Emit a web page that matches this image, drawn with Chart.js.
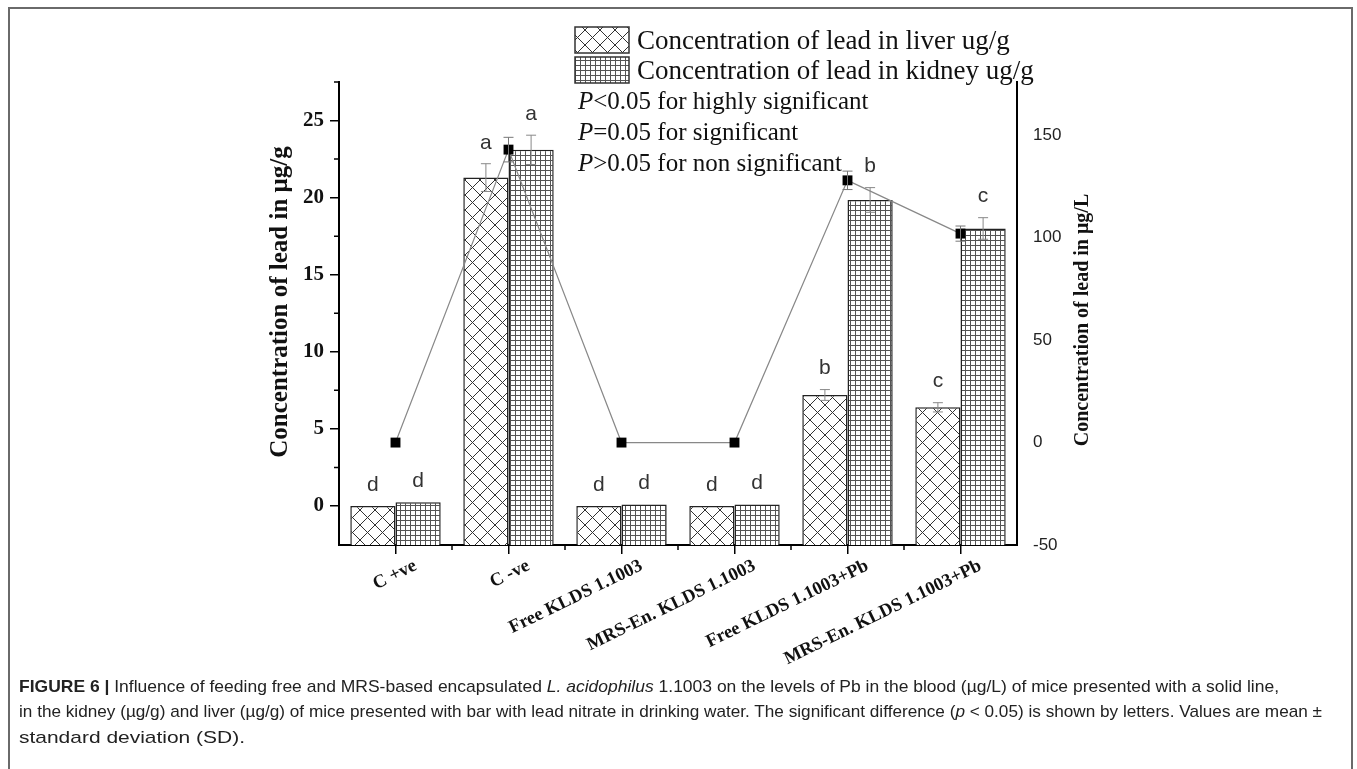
<!DOCTYPE html>
<html>
<head>
<meta charset="utf-8">
<script src="https://cdn.jsdelivr.net/npm/chart.js@4.4.0/dist/chart.umd.min.js"></script>
<style>
    html, body { margin: 0; padding: 0; background: #fff; overflow: hidden; }
    #wrap { position: relative; width: 1357px; height: 769px; }
    #frame { position: absolute; left: 8px; top: 7px; width: 1345px; height: 800px; border: 2px solid #6a6a6a; box-sizing: border-box; }
    #chartBox { position: absolute; left: 0; top: 0; width: 1357px; height: 769px; }
    .cap { position: absolute; left: 19px; white-space: nowrap; font-family: 'Liberation Sans', Arial, sans-serif; font-size: 17px; color: #222; transform-origin: 0 50%; }
    .cap b { font-weight: bold; }
</style>
</head>
<body>
<div id="wrap">
    <div id="frame"></div>
    <div id="chartBox"><canvas id="leadChart" width="1357" height="769"></canvas></div>
    <div class="cap" id="cap1" style="top:677px"><b>FIGURE 6 |</b> Influence of feeding free and MRS-based encapsulated <i>L. acidophilus</i> 1.1003 on the levels of Pb in the blood (µg/L) of mice presented with a solid line,</div>
    <div class="cap" id="cap2" style="top:702px">in the kidney (µg/g) and liver (µg/g) of mice presented with bar with lead nitrate in drinking water. The significant difference (<i>p</i> &lt; 0.05) is shown by letters. Values are mean ±</div>
    <div class="cap" id="cap3" style="top:728px">standard deviation (SD).</div>
</div>
<script>
// groups on the x axis
const categories = ['C +ve', 'C -ve', 'Free KLDS 1.1003', 'MRS-En. KLDS 1.1003', 'Free KLDS 1.1003+Pb', 'MRS-En. KLDS 1.1003+Pb'];

// liver (ug/g), left axis
const liverValues = [0, 21.3, 0, 0, 7.2, 6.4];
const liverErrors = [0, 0.9, 0, 0, 0.35, 0.3];
const liverLetters = ['d', 'a', 'd', 'd', 'b', 'c'];

// kidney (ug/g), left axis
const kidneyValues = [0.25, 23.1, 0.1, 0.1, 19.85, 18.0];
const kidneyErrors = [0, 0.95, 0, 0, 0.8, 0.7];
const kidneyLetters = ['d', 'a', 'd', 'd', 'b', 'c'];

// blood (ug/L), right axis
const bloodValues = [0, 143, 0, 0, 128, 102];
const bloodErrors = [0, 6, 0, 0, 4.5, 3.7];

const leftMin = -2.53, leftMax = 27.5;
const rightMin = -50, rightMax = 176;

const legendLines = ['Concentration of lead in liver ug/g', 'Concentration of lead in kidney ug/g'];
const noteLines = [['P', '<0.05 for highly significant'], ['P', '=0.05 for significant'], ['P', '>0.05 for non significant']];

const serif = "'Liberation Serif', 'Times New Roman', serif";
const sans = "'Liberation Sans', Arial, sans-serif";

function makePattern(kind) {
    const c = document.createElement('canvas');
    const s = kind === 'cross' ? 15 : 5;
    c.width = s; c.height = s;
    const g = c.getContext('2d');
    g.fillStyle = '#fff';
    g.fillRect(0, 0, s, s);
    g.strokeStyle = kind === 'cross' ? '#333' : '#555';
    g.lineWidth = 1;
    g.beginPath();
    if (kind === 'cross') {
        g.moveTo(-1, -1); g.lineTo(s + 1, s + 1);
        g.moveTo(s + 1, -1); g.lineTo(-1, s + 1);
    } else {
        g.moveTo(0.5, 0); g.lineTo(0.5, s);
        g.moveTo(0, 0.5); g.lineTo(s, 0.5);
    }
    g.stroke();
    return g.createPattern(c, 'repeat');
}

const crossPattern = makePattern('cross');
const gridPattern = makePattern('grid');

function drawErrorBar(ctx, x, yTop, yBot, half) {
    ctx.beginPath();
    ctx.moveTo(x, yTop); ctx.lineTo(x, yBot);
    ctx.moveTo(x - half, yTop); ctx.lineTo(x + half, yTop);
    ctx.moveTo(x - half, yBot); ctx.lineTo(x + half, yBot);
    ctx.stroke();
}

const extrasPlugin = {
    id: 'extras',
    afterDatasetsDraw(chart) {
        const ctx = chart.ctx;
        const yL = chart.scales.y, yR = chart.scales.y1;
        ctx.save();
        ctx.strokeStyle = '#888';
        ctx.lineWidth = 1;
        const barSets = [[0, liverValues, liverErrors, liverLetters], [1, kidneyValues, kidneyErrors, kidneyLetters]];
        barSets.forEach(([di, vals, errs, letters]) => {
            const meta = chart.getDatasetMeta(di);
            meta.data.forEach((bar, i) => {
                const top = yL.getPixelForValue(vals[i] + errs[i]);
                if (errs[i] > 0) {
                    drawErrorBar(ctx, bar.x, top, yL.getPixelForValue(vals[i] - errs[i]), 5);
                }
                ctx.fillStyle = '#333';
                ctx.font = '21px ' + sans;
                ctx.textAlign = 'center';
                ctx.textBaseline = 'middle';
                ctx.fillText(letters[i], bar.x, top - 21);
            });
        });
        const lineMeta = chart.getDatasetMeta(2);
        ctx.strokeStyle = '#777';
        lineMeta.data.forEach((pt, i) => {
            if (bloodErrors[i] > 0) {
                drawErrorBar(ctx, pt.x, yR.getPixelForValue(bloodValues[i] + bloodErrors[i]),
                    yR.getPixelForValue(bloodValues[i] - bloodErrors[i]), 5);
            }
        });
        ctx.restore();
    },
    afterDraw(chart) {
        const ctx = chart.ctx;
        const area = chart.chartArea;
        const x = chart.scales.x, yL = chart.scales.y;
        ctx.save();
        // minor ticks
        ctx.strokeStyle = '#000';
        ctx.lineWidth = 1.5;
        ctx.beginPath();
        for (let v = 2.5; v <= leftMax; v += 5) {
            const py = yL.getPixelForValue(v);
            ctx.moveTo(area.left, py); ctx.lineTo(area.left - 5, py);
        }
        for (let i = 1; i < categories.length; i++) {
            const px = (x.getPixelForValue(i - 1) + x.getPixelForValue(i)) / 2;
            ctx.moveTo(px, area.bottom); ctx.lineTo(px, area.bottom + 5);
        }
        ctx.stroke();

        // axis titles
        ctx.fillStyle = '#111';
        ctx.textAlign = 'center';
        ctx.textBaseline = 'middle';
        ctx.save();
        ctx.translate(281, 302);
        ctx.rotate(-Math.PI / 2);
        ctx.font = 'bold 25px ' + serif;
        ctx.fillText('Concentration of lead in μg/g', 0, 0);
        ctx.restore();
        ctx.save();
        ctx.translate(1083, 320);
        ctx.rotate(-Math.PI / 2);
        ctx.font = 'bold 20px ' + serif;
        ctx.fillText('Concentration of lead in μg/L', 0, 0);
        ctx.restore();

        // legend
        const fills = [crossPattern, gridPattern];
        ctx.lineWidth = 1.5;
        ctx.strokeStyle = '#333';
        ctx.textAlign = 'left';
        ctx.textBaseline = 'alphabetic';
        ctx.font = '27px ' + serif;
        legendLines.forEach((txt, i) => {
            const by = 27 + i * 30;
            ctx.fillStyle = fills[i];
            ctx.fillRect(575, by, 54, 26);
            ctx.strokeRect(575, by, 54, 26);
            ctx.fillStyle = '#111';
            ctx.fillText(txt, 637, by + 22);
        });
        noteLines.forEach((parts, i) => {
            const base = 109 + i * 31;
            ctx.font = 'italic 25px ' + serif;
            ctx.fillText(parts[0], 578, base);
            const w = ctx.measureText(parts[0]).width;
            ctx.font = '25px ' + serif;
            ctx.fillText(parts[1], 578 + w, base);
        });
        ctx.restore();
    }
};

Chart.defaults.font.family = serif;
Chart.defaults.color = '#111';

new Chart(document.getElementById('leadChart').getContext('2d'), {
    data: {
        labels: categories,
        datasets: [
            {
                type: 'bar',
                label: 'Concentration of lead in liver ug/g',
                data: liverValues,
                base: leftMin,
                backgroundColor: crossPattern,
                borderColor: '#222',
                borderWidth: 1.5,
                categoryPercentage: 0.8,
                barPercentage: 1.0,
                yAxisID: 'y',
                order: 2
            },
            {
                type: 'bar',
                label: 'Concentration of lead in kidney ug/g',
                data: kidneyValues,
                base: leftMin,
                backgroundColor: gridPattern,
                borderColor: '#222',
                borderWidth: 1.5,
                categoryPercentage: 0.8,
                barPercentage: 1.0,
                yAxisID: 'y',
                order: 2
            },
            {
                type: 'line',
                label: 'Blood',
                data: bloodValues,
                yAxisID: 'y1',
                borderColor: '#888',
                borderWidth: 1.2,
                tension: 0,
                pointStyle: 'rect',
                pointRadius: 7,
                pointBackgroundColor: '#000',
                pointBorderColor: '#000',
                pointBorderWidth: 0,
                order: 1
            }
        ]
    },
    options: {
        responsive: false,
        animation: false,
        layout: { padding: { top: 82, left: 0, right: 0, bottom: 0 } },
        plugins: {
            legend: { display: false },
            tooltip: { enabled: false }
        },
        scales: {
            x: {
                type: 'category',
                offset: true,
                grid: { display: true, offset: false, drawOnChartArea: false, drawTicks: true, tickLength: 9, color: '#000', lineWidth: 1.5 },
                border: { display: true, color: '#000', width: 2 },
                ticks: {
                    autoSkip: false,
                    minRotation: 26,
                    maxRotation: 26,
                    labelOffset: 20,
                    padding: 1,
                    color: '#111',
                    font: { family: serif, size: 18.5, weight: 'bold' }
                },
                afterFit(scale) { scale.height = 769 - 545; }
            },
            y: {
                position: 'left',
                min: leftMin,
                max: leftMax,
                grid: { display: true, drawOnChartArea: false, drawTicks: true, tickLength: 9, color: '#000', lineWidth: 1.5 },
                border: { display: true, color: '#000', width: 2 },
                ticks: {
                    stepSize: 5,
                    includeBounds: false,
                    padding: 6,
                    color: '#111',
                    font: { family: serif, size: 21, weight: 'bold' }
                },
                afterFit(scale) { scale.width = 339; }
            },
            y1: {
                position: 'right',
                min: rightMin,
                max: rightMax,
                grid: { display: false, drawOnChartArea: false, drawTicks: false },
                border: { display: true, color: '#000', width: 2 },
                ticks: {
                    stepSize: 50,
                    includeBounds: false,
                    padding: 16,
                    color: '#222',
                    font: { family: sans, size: 17 }
                },
                afterFit(scale) { scale.width = 1357 - 1017; }
            }
        }
    },
    plugins: [extrasPlugin]
});

// squeeze the caption lines to the widths seen in the figure
const capWidths = { cap1: 1260, cap2: 1303, cap3: 226 };
Object.keys(capWidths).forEach(id => {
    const el = document.getElementById(id);
    const w = el.getBoundingClientRect().width;
    el.style.transform = 'scaleX(' + (capWidths[id] / w) + ')';
});
</script>
</body>
</html>
